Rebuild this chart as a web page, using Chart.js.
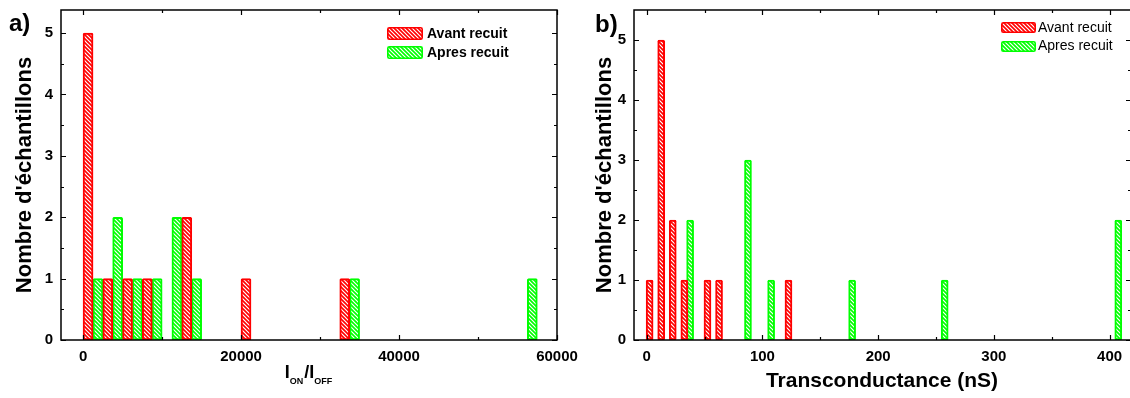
<!DOCTYPE html>
<html><head><meta charset="utf-8">
<script src="https://cdn.jsdelivr.net/npm/chart.js@4.4.0/dist/chart.umd.min.js"></script>
<style>
html,body{margin:0;padding:0;background:#fff;overflow:hidden;width:1130px;height:398px;}
#ca{position:absolute;left:0;top:0;}
#cb{position:absolute;left:575px;top:0;}
</style></head><body>
<canvas id="ca" width="600" height="398"></canvas>
<canvas id="cb" width="556" height="398"></canvas>
<script>
// ---------- data ----------
const seriesNames = ['Avant recuit', 'Apres recuit'];
// Panel a) : I_ON / I_OFF histogram
const ratioAvantX = [625, 3125, 5625, 8125, 13125, 20625, 33125];
const ratioAvantN = [5, 1, 1, 1, 2, 1, 1];
const ratioApresX = [1875, 4375, 6875, 9375, 11875, 14375, 34375, 56875];
const ratioApresN = [1, 2, 1, 1, 2, 1, 1, 1];
const ratioTicks = [0, 20000, 40000, 60000];
// Panel b) : transconductance histogram (nS)
const gmAvantX = [2.5, 12.5, 22.5, 32.5, 52.5, 62.5, 122.5];
const gmAvantN = [1, 5, 2, 1, 1, 1, 1];
const gmApresX = [37.5, 87.5, 107.5, 177.5, 257.5, 407.5];
const gmApresN = [2, 3, 1, 1, 1, 2];
const gmTicks = [0, 100, 200, 300, 400];
const countTicks = [0, 1, 2, 3, 4, 5];

// ---------- helpers ----------
const FONT = '"Liberation Sans", Arial, sans-serif';
const RED = '#ff0000', GREEN = '#00ff00';
function hatch(color){
  const s = 4, c = document.createElement('canvas'); c.width = s; c.height = s;
  const g = c.getContext('2d');
  g.fillStyle = color; g.fillRect(0, 0, s, s);
  g.strokeStyle = '#fff'; g.lineWidth = 1.2;
  g.beginPath();
  for (let k = -1; k <= 1; k++){ g.moveTo(-1, k*s - 1); g.lineTo(s + 1, s + k*s + 1); }
  g.stroke();
  return g.createPattern(c, 'repeat');
}
const toPts = (xs, ns) => xs.map((v, i) => ({x: v, y: ns[i]}));
const mids = arr => arr.slice(1).map((v, i) => (v + arr[i]) / 2);

function makeDataset(label, xs, ns, color, thick){
  return {label, data: toPts(xs, ns), backgroundColor: hatch(color), borderColor: color,
    borderWidth: 2, borderRadius: 1.5, borderSkipped: false, barThickness: thick, grouped: false};
}

function framePlugin(xMajor, yMajor, yMax){
  const xMinor = mids(xMajor), yMinor = mids(yMajor).concat([yMajor[yMajor.length-1] + 0.5].filter(v => v < yMax));
  return {id: 'frame', afterDatasetsDraw(chart){
    const {ctx, chartArea: a, scales: {x, y}} = chart;
    ctx.save();
    ctx.strokeStyle = '#000'; ctx.lineWidth = 1.5;
    ctx.strokeRect(a.left, a.top, a.right - a.left, a.bottom - a.top);
    ctx.lineWidth = 1.2;
    ctx.beginPath();
    const xt = (v, len) => { const p = Math.round(x.getPixelForValue(v)) + 0.5;
      ctx.moveTo(p, a.bottom); ctx.lineTo(p, a.bottom - len); ctx.moveTo(p, a.top); ctx.lineTo(p, a.top + len); };
    const yt = (v, len) => { const p = Math.round(y.getPixelForValue(v)) + 0.5;
      ctx.moveTo(a.left, p); ctx.lineTo(a.left + len, p); ctx.moveTo(a.right, p); ctx.lineTo(a.right - len, p); };
    xMajor.forEach(v => xt(v, 5)); xMinor.forEach(v => xt(v, 3));
    yMajor.forEach(v => yt(v, 5)); yMinor.forEach(v => yt(v, 3));
    ctx.stroke();
    ctx.restore();
  }};
}

function legendPlugin(items, sw, textFont){
  return {id: 'lg', afterDraw(chart){
    const ctx = chart.ctx; ctx.save();
    chart.data.datasets.forEach((ds, i) => {
      const it = items[i];
      ctx.fillStyle = ds.backgroundColor; ctx.strokeStyle = ds.borderColor; ctx.lineWidth = 1.6;
      ctx.beginPath(); ctx.roundRect(it.x + 0.8, it.y + 0.8, sw.w - 1.6, sw.h - 1.6, 1.5);
      ctx.fill(); ctx.stroke();
      ctx.fillStyle = '#000'; ctx.font = textFont; ctx.textBaseline = 'middle'; ctx.textAlign = 'left';
      ctx.fillText(ds.label, it.tx, it.ty);
    });
    ctx.restore();
  }};
}

function textPlugin(drawFn){ return {id: 'txt', afterDraw(chart){ const ctx = chart.ctx; ctx.save(); drawFn(ctx, chart); ctx.restore(); }}; }

function baseOptions(xmin, xmax, xTicks, ymax, yAxisW, xAxisH, titlePadTop, padRight){
  return {
    responsive: false, animation: false,
    layout: {padding: {left: 0, right: padRight, top: 10, bottom: 0}},
    plugins: {legend: {display: false}, tooltip: {enabled: false}},
    scales: {
      x: {type: 'linear', min: xmin, max: xmax, offset: false,
        grid: {display: false, drawTicks: false}, border: {display: false},
        afterBuildTicks: s => { s.ticks = xTicks.map(v => ({value: v})); },
        afterFit: s => { s.height = xAxisH; s.paddingLeft = 0; s.paddingRight = 0; },
        ticks: {autoSkip: false, maxRotation: 0, padding: 8, color: '#000',
          font: {family: FONT, size: 15, weight: 'bold'}, callback: v => String(v)}},
      y: {type: 'linear', min: 0, max: ymax,
        grid: {display: false, drawTicks: false}, border: {display: false},
        afterBuildTicks: s => { s.ticks = countTicks.map(v => ({value: v})); },
        afterFit: s => { s.width = yAxisW; s.paddingTop = 0; s.paddingBottom = 0; },
        ticks: {autoSkip: false, padding: 8, color: '#000',
          font: {family: FONT, size: 15, weight: 'bold'}, callback: v => String(v)},
        title: {display: true, text: "Nombre d'échantillons", color: '#000',
          font: {family: FONT, size: 22, weight: 'bold'}, padding: {top: titlePadTop, bottom: 0}}}
    }
  };
}

// ---------- panel a ----------
new Chart(document.getElementById('ca'), {
  type: 'bar',
  data: {datasets: [
    makeDataset(seriesNames[0], ratioAvantX, ratioAvantN, RED, 10),
    makeDataset(seriesNames[1], ratioApresX, ratioApresN, GREEN, 10)]},
  options: baseOptions(-2800, 60000, ratioTicks, 5.375, 61, 58, 12, 43),
  plugins: [
    framePlugin(ratioTicks, countTicks, 5.375),
    legendPlugin([{x: 387, y: 27, tx: 427, ty: 34.5}, {x: 387, y: 46, tx: 427, ty: 53}], {w: 36, h: 13},
      'bold 14px ' + FONT),
    textPlugin((ctx, chart) => {
      ctx.fillStyle = '#000'; ctx.textBaseline = 'alphabetic';
      ctx.font = 'bold 24px ' + FONT; ctx.fillText('a)', 9, 31);
      // x-axis title I_ON / I_OFF
      const a = chart.chartArea, big = 'bold 18px ' + FONT, small = 'bold 9px ' + FONT;
      const parts = [['I', big, 0], ['ON', small, 6], ['/', big, 0], ['I', big, 0], ['OFF', small, 6]];
      let w = 0; parts.forEach(p => { ctx.font = p[1]; w += ctx.measureText(p[0]).width + (p[1] === small ? 1 : 0); });
      let x = (a.left + a.right) / 2 - w / 2; const base = 378;
      parts.forEach(p => { ctx.font = p[1]; ctx.fillText(p[0], x, base + p[2]); x += ctx.measureText(p[0]).width + (p[1] === small ? 1 : 0); });
    })
  ]
});

// ---------- panel b ----------
new Chart(document.getElementById('cb'), {
  type: 'bar',
  data: {datasets: [
    makeDataset(seriesNames[0], gmAvantX, gmAvantN, RED, 7),
    makeDataset(seriesNames[1], gmApresX, gmApresN, GREEN, 7)]},
  options: baseOptions(-11, 418.5, gmTicks, 5.5, 59, 58, 17, 0),
  plugins: [
    framePlugin(gmTicks, countTicks, 5.5),
    legendPlugin([{x: 426, y: 22, tx: 463, ty: 28.5}, {x: 426, y: 41, tx: 463, ty: 46.5}], {w: 35, h: 11},
      '14px ' + FONT),
    textPlugin((ctx, chart) => {
      ctx.fillStyle = '#000'; ctx.textBaseline = 'alphabetic';
      ctx.font = 'bold 24px ' + FONT; ctx.fillText('b)', 20, 32);
      const a = chart.chartArea;
      ctx.font = 'bold 21px ' + FONT; ctx.textAlign = 'center';
      ctx.fillText('Transconductance (nS)', (a.left + 1130 - 575) / 2, 387);
    })
  ]
});
</script>
</body></html>
